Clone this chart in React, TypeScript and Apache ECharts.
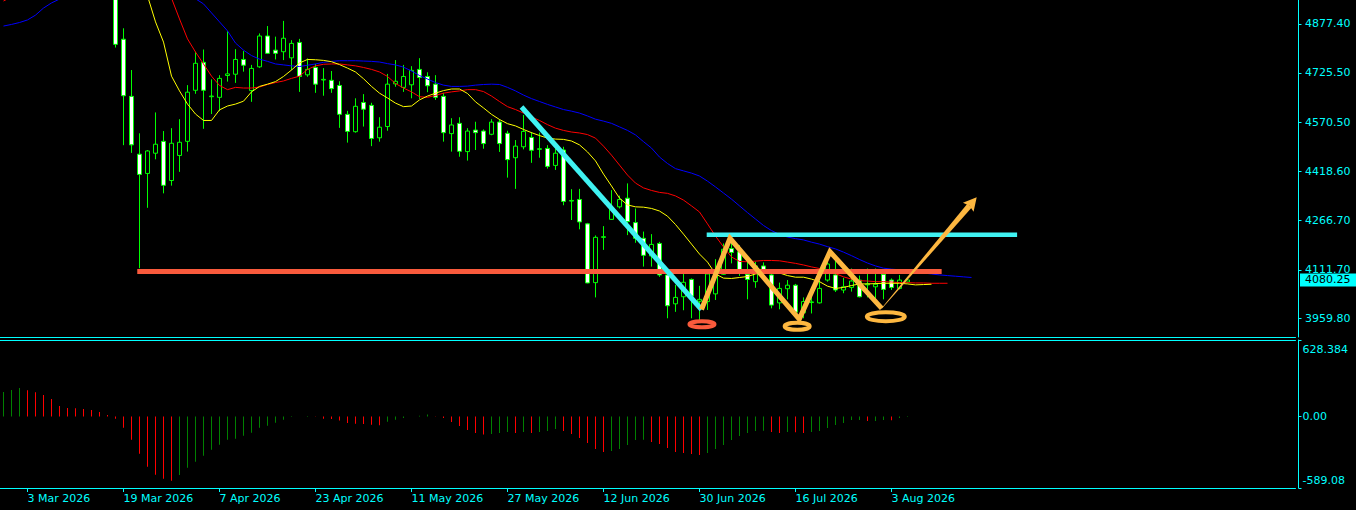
import React, { useEffect, useRef } from 'react';
import * as echarts from 'echarts';

// ---------- calendar ----------
const FIRST_TRADING_DAY = '2026-02-26';
const MARKET_HOLIDAYS = ['2026-04-03'];
const SLOT_COUNT = 162;
const LABEL_FIRST_INDEX = 3;
const LABEL_EVERY = 12;
const MONTH_NAMES = ['Jan', 'Feb', 'Mar', 'Apr', 'May', 'Jun', 'Jul', 'Aug', 'Sep', 'Oct', 'Nov', 'Dec'];

// ---------- price scale ----------
const priceRange = [3902.7, 4952.1];
const priceTickValues = [4877.4, 4725.5, 4570.5, 4418.6, 4266.7, 4111.7, 3959.8];
const lastPrice = 4080.25;

// ---------- oscillator scale ----------
const aoRange = [-589.08, 628.384];
const aoTickValues = [628.384, 0, -589.08];

// ---------- daily candles ----------
const opens = [
  5050, 5070, 5090, 5120, 5100, 5075, 5055, 5030, 5005, 5020,
  5010, 5025, 5015, 4995, 5005, 4830, 4652, 4472, 4412, 4475,
  4512, 4390, 4468, 4512, 4671, 4758, 4651, 4649, 4717, 4721,
  4767, 4670, 4744, 4840, 4796, 4791, 4772, 4820, 4719, 4742,
  4703, 4702, 4686, 4596, 4542, 4633, 4624, 4523, 4558, 4691,
  4680, 4688, 4736, 4714, 4690, 4652, 4536, 4568, 4480, 4547,
  4544, 4534, 4572, 4537, 4461, 4495, 4524, 4487, 4490, 4437,
  4485, 4326, 4331, 4255, 4072, 4213, 4269, 4308, 4335, 4259,
  4210, 4155, 4194, 4096, 4006, 4028, 4082, 4014, 4013, 4037,
  4098, 4178, 4168, 4098, 4075, 4124, 4096, 4009, 4053, 4064,
  3978, 4010, 4009, 4080, 4096, 4049, 4057, 4080, 4065, 4059,
  4098, 4080, 4054, 4074,
];
const highs = [
  5080, 5100, 5130, 5135, 5110, 5095, 5070, 5045, 5030, 5040,
  5035, 5045, 5030, 5020, 5020, 4864, 4734, 4537, 4485, 4602,
  4544, 4553, 4581, 4687, 4791, 4798, 4705, 4718, 4855, 4799,
  4793, 4750, 4848, 4871, 4838, 4887, 4827, 4831, 4770, 4753,
  4740, 4731, 4699, 4607, 4646, 4659, 4632, 4587, 4722, 4765,
  4750, 4746, 4771, 4727, 4718, 4663, 4584, 4587, 4553, 4573,
  4549, 4581, 4581, 4545, 4516, 4594, 4541, 4539, 4500, 4489,
  4495, 4363, 4364, 4258, 4219, 4248, 4360, 4343, 4381, 4303,
  4231, 4223, 4199, 4098, 4065, 4100, 4085, 4062, 4111, 4145,
  4194, 4210, 4189, 4142, 4137, 4135, 4106, 4072, 4080, 4068,
  4026, 4040, 4101, 4148, 4140, 4087, 4116, 4094, 4116, 4116,
  4114, 4085, 4096, 4088,
];
const lows = [
  5030, 5055, 5080, 5090, 5060, 5040, 5020, 4990, 4985, 4995,
  4990, 5000, 4985, 4975, 4804, 4500, 4476, 4117, 4305, 4456,
  4350, 4374, 4417, 4480, 4660, 4551, 4597, 4606, 4698, 4694,
  4729, 4635, 4741, 4784, 4767, 4765, 4734, 4666, 4713, 4663,
  4654, 4663, 4554, 4508, 4539, 4558, 4497, 4511, 4545, 4682,
  4666, 4646, 4644, 4665, 4641, 4511, 4480, 4464, 4452, 4485,
  4489, 4531, 4479, 4399, 4364, 4487, 4445, 4461, 4427, 4423,
  4313, 4267, 4238, 4070, 4026, 4174, 4267, 4303, 4220, 4196,
  4122, 4122, 4090, 3961, 3981, 3986, 3961, 3956, 3987, 4018,
  4096, 4132, 4093, 4020, 4056, 4089, 3992, 3989, 4020, 3974,
  3961, 3976, 4007, 4075, 4043, 4039, 4044, 4026, 4026, 4020,
  4020, 4049, 4051, 4070,
];
const closes = [
  5070, 5090, 5120, 5100, 5075, 5055, 5030, 5005, 5020, 5010,
  5025, 5015, 4995, 5005, 4814, 4654, 4501, 4409, 4482, 4503,
  4375, 4506, 4509, 4665, 4755, 4671, 4653, 4708, 4722, 4767,
  4749, 4739, 4840, 4786, 4786, 4833, 4817, 4714, 4736, 4690,
  4705, 4676, 4596, 4543, 4621, 4612, 4521, 4556, 4690, 4699,
  4714, 4733, 4711, 4685, 4649, 4539, 4563, 4481, 4544, 4539,
  4505, 4572, 4505, 4455, 4497, 4543, 4484, 4489, 4434, 4475,
  4325, 4328, 4261, 4071, 4213, 4215, 4301, 4331, 4262, 4210,
  4157, 4191, 4096, 4000, 4026, 4073, 4030, 4020, 4099, 4096,
  4176, 4166, 4111, 4082, 4124, 4113, 4002, 4054, 4064, 3980,
  4013, 4012, 4054, 4130, 4049, 4059, 4077, 4028, 4068, 4067,
  4051, 4057, 4080, 4080.25,
];

// ---------- shifted moving averages (read per slot) ----------
const lipsYellow = [
  5060, 5070, 5078, 5082, 5083, 5080, 5075, 5068, 5060, 5052,
  5045, 5038, 5030, 5020, 5008, 4995, 4985, 4975, 4965, 4884,
  4821, 4715, 4669, 4628, 4597, 4577, 4577, 4610, 4622, 4628,
  4637, 4666, 4683, 4690, 4698, 4714, 4734, 4756, 4767, 4766,
  4764, 4760, 4751, 4740, 4728, 4707, 4683, 4662, 4647, 4631,
  4620, 4622, 4641, 4653, 4662, 4670, 4675, 4675, 4661, 4635,
  4616, 4596, 4580, 4567, 4560, 4549, 4539, 4530, 4522, 4519,
  4518, 4513, 4501, 4479, 4451, 4410, 4373, 4335, 4314, 4308,
  4307, 4303, 4295, 4279, 4253, 4223, 4192, 4161, 4136, 4099,
  4086, 4085, 4088, 4091, 4099, 4103, 4108, 4102, 4094, 4089,
  4089, 4083, 4075, 4061, 4054, 4057, 4063, 4068, 4068, 4069,
  4070, 4070, 4070, 4068, 4065, 4066, 4067,
];
const teethRed = [
  4949, 4962, 4975, 4988, 5000, 5010, 5018, 5024, 5028, 5030,
  5030, 5028, 5024, 5018, 5010, 5000, 4990, 4981, 4973, 4967,
  4962, 4958, 4893, 4831, 4790, 4753, 4715, 4686, 4673, 4680,
  4678, 4678, 4681, 4689, 4695, 4700, 4708, 4715, 4736, 4747,
  4752, 4753, 4753, 4750, 4747, 4742, 4736, 4728, 4714, 4692,
  4678, 4666, 4651, 4649, 4655, 4662, 4666, 4669, 4673, 4673,
  4667, 4653, 4636, 4620, 4611, 4600, 4588, 4577, 4564, 4553,
  4546, 4541, 4538, 4533, 4522, 4497, 4469, 4438, 4407, 4382,
  4367, 4359, 4353, 4350, 4342, 4329, 4311, 4292, 4255, 4217,
  4183, 4152, 4138, 4137, 4139, 4141, 4141, 4140, 4136, 4132,
  4127, 4121, 4116, 4111, 4100, 4090, 4083, 4078, 4077, 4075,
  4075, 4074, 4072, 4072, 4071, 4071, 4070, 4070, 4070,
];
const jawBlue = [
  4871, 4876, 4882, 4890, 4905, 4927, 4943, 4955, 4975, 4990,
  5000, 5008, 5012, 5014, 5012, 5008, 5000, 4994, 4987, 4980,
  4974, 4969, 4965, 4961, 4956, 4940, 4912, 4884, 4856, 4818,
  4796, 4779, 4768, 4761, 4753, 4750, 4747, 4745, 4749, 4753,
  4758, 4761, 4763, 4763, 4763, 4762, 4761, 4759, 4754, 4750,
  4743, 4731, 4717, 4706, 4695, 4687, 4683, 4683, 4684, 4687,
  4689, 4690, 4689, 4680, 4669, 4656, 4645, 4636, 4627, 4619,
  4611, 4606, 4600, 4591, 4581, 4575, 4568, 4557, 4546, 4532,
  4511, 4491, 4463, 4443, 4427, 4420, 4413, 4404, 4388, 4370,
  4351, 4332, 4311, 4290, 4270, 4250, 4234, 4222, 4214, 4209,
  4205, 4198, 4192, 4184, 4177, 4167, 4156, 4144, 4133, 4124,
  4117, 4114, 4112, 4110, 4105, 4102, 4099, 4096, 4094, 4092,
  4090, 4088,
];

// ---------- oscillator histogram ----------
const aoValues = [
  200, 217, 233, 216, 199, 175, 143, 85, 69, 66,
  60, 52, 36, 11, -19, -93, -192, -307, -414, -480,
  -513, -529, -483, -422, -373, -324, -274, -233, -192, -184,
  -159, -134, -93, -77, -52, -27, -6, -1, 4, 2,
  -19, -22, -33, -55, -60, -63, -68, -72, -45, -28,
  -14, -1, 5, 16, -3, -14, -47, -80, -112, -137,
  -148, -145, -137, -129, -137, -129, -137, -129, -121, -104,
  -121, -145, -178, -219, -269, -293, -285, -269, -236, -195,
  -193, -211, -228, -260, -293, -302, -310, -318, -302, -269,
  -236, -195, -162, -137, -121, -119, -129, -137, -129, -131,
  -137, -129, -121, -96, -71, -55, -30, -29, -38, -37,
  -30, -31, -14, -5,
];

// ---------- drawn annotations: [slot position, price] ----------
const supportLine = [[16.72, 4106.6], [117.27, 4106.6]];
const resistanceLine = [[87.9, 4220.9], [126.7, 4220.9]];
const downTrendLine = [[64.75, 4618.9], [87.25, 3988.3]];
const zigzagPath = [[87.25, 3988.3], [90.81, 4210.0], [99.47, 3958.6], [103.31, 4168.3], [109.78, 3992.0]];
const breakoutArrow = [[109.78, 3992.0, 121.65, 4337.7]];
const markerCentres = [[87.31, 3942.2], [99.21, 3936.3], [110.29, 3965.9]];

// ---------- styles ----------
const BG = '#000000';
const CYAN = '#00ffff';
const LIME = '#00ff00';
const SUPPORT_COL = '#f95a3c';
const RESIST_COL = '#3ff2f2';
const ZIGZAG_COL = '#fdb740';
const AO_UP = '#008000';
const AO_DOWN = '#ff0000';
const FONT = 'DejaVu Sans';
const SLOT_PX = 8;
const markerRadii = [[12.5, 3], [12.5, 3.5], [19, 4.5]];
const markerColours = [SUPPORT_COL, ZIGZAG_COL, ZIGZAG_COL];

function buildTradingDays(first: string, count: number, holidays: string[]): string[] {
  const out: string[] = [];
  const d = new Date(first + 'T00:00:00Z');
  while (out.length < count) {
    const dow = d.getUTCDay();
    const iso = d.toISOString().slice(0, 10);
    if (dow !== 0 && dow !== 6 && holidays.indexOf(iso) < 0) out.push(iso);
    d.setUTCDate(d.getUTCDate() + 1);
  }
  return out;
}

const categories = buildTradingDays(FIRST_TRADING_DAY, SLOT_COUNT, MARKET_HOLIDAYS);
const lastBar = closes.length - 1;
const labelShown = (i: number) =>
  i >= LABEL_FIRST_INDEX && i <= lastBar && (i - LABEL_FIRST_INDEX) % LABEL_EVERY === 0;
const formatDay = (iso: string) => {
  const [y, m, d] = iso.split('-').map(Number);
  return `${d} ${MONTH_NAMES[m - 1]} ${y}`;
};

function buildOption(): any {
  const candleData = opens.map((o, i) => [o, closes[i], lows[i], highs[i]]);
  const aoData = aoValues.map((v, i) => ({
    value: v,
    itemStyle: { color: i === 0 || v >= aoValues[i - 1] ? AO_UP : AO_DOWN },
  }));
  const gridWidth = SLOT_COUNT * SLOT_PX;
  const axisLineStyle = { color: CYAN, width: 1 };
  const labelBase = { color: CYAN, fontSize: 11, fontFamily: FONT };

  return {
    animation: false,
    backgroundColor: BG,
    textStyle: { fontFamily: FONT },
    grid: [
      { left: -0.5, top: 0, width: gridWidth, height: 337, outerBoundsMode: 'none', containLabel: false },
      { left: -0.5, top: 340, width: gridWidth, height: 148, outerBoundsMode: 'none', containLabel: false },
    ],
    xAxis: [
      {
        gridIndex: 0, type: 'category', data: categories,
        axisLine: { show: true, onZero: false, lineStyle: axisLineStyle },
        axisTick: { show: false }, axisLabel: { show: false }, splitLine: { show: false },
      },
      { gridIndex: 0, type: 'value', min: -0.5, max: SLOT_COUNT - 0.5, show: false },
      {
        gridIndex: 1, type: 'category', data: categories, position: 'bottom',
        axisLine: { show: true, onZero: false, lineStyle: axisLineStyle },
        axisTick: { show: true, alignWithLabel: true, length: 4, interval: (i: number) => labelShown(i), lineStyle: axisLineStyle },
        axisLabel: { ...labelBase, interval: (i: number) => labelShown(i), formatter: (v: string) => formatDay(v), align: 'left', margin: 5 },
        splitLine: { show: false },
      },
      {
        gridIndex: 1, type: 'category', data: categories, position: 'top',
        axisLine: { show: true, onZero: false, lineStyle: axisLineStyle },
        axisTick: { show: false }, axisLabel: { show: false }, splitLine: { show: false },
      },
    ],
    yAxis: [
      {
        gridIndex: 0, type: 'value', position: 'right', offset: 3,
        min: priceRange[0], max: priceRange[1], scale: true,
        axisLine: { show: true, onZero: false, lineStyle: axisLineStyle },
        axisTick: { show: true, length: 3, customValues: priceTickValues, lineStyle: axisLineStyle },
        axisLabel: { ...labelBase, customValues: priceTickValues, formatter: (v: number) => v.toFixed(2), margin: 6.5 },
        splitLine: { show: false },
      },
      {
        gridIndex: 0, type: 'value', position: 'right', offset: 3,
        min: priceRange[0], max: priceRange[1], scale: true,
        axisLine: { show: false, onZero: false }, axisTick: { show: false }, splitLine: { show: false },
        axisLabel: {
          customValues: [lastPrice], formatter: (v: number) => v.toFixed(2),
          color: '#000000', backgroundColor: CYAN, fontSize: 11, fontFamily: FONT,
          padding: [1, 6, 0, 5], lineHeight: 12, margin: 1.5,
        },
      },
      {
        gridIndex: 1, type: 'value', position: 'right', offset: 3,
        min: aoRange[0], max: aoRange[1],
        axisLine: { show: true, onZero: false, lineStyle: axisLineStyle },
        axisTick: { show: true, length: 3, customValues: aoTickValues, lineStyle: axisLineStyle },
        axisLabel: {
          ...labelBase, customValues: aoTickValues, margin: 4,
          formatter: (v: number) => {
            if (v === aoRange[1]) return '{t|' + String(v) + '}';
            if (v === aoRange[0]) return '{b|' + v.toFixed(2) + '}';
            return v.toFixed(2);
          },
          rich: {
            t: { ...labelBase, padding: [18, 0, 0, 0] },
            b: { ...labelBase, padding: [0, 0, 16, 0] },
          },
        },
        splitLine: { show: false },
      },
    ],
    series: [
      {
        type: 'candlestick', xAxisIndex: 0, yAxisIndex: 0, data: candleData,
        barWidth: 4, clip: true, z: 2,
        itemStyle: { color: '#000000', color0: '#ffffff', borderColor: LIME, borderColor0: LIME, borderWidth: 1 },
      },
      { type: 'line', xAxisIndex: 0, yAxisIndex: 0, data: jawBlue, symbol: 'none', z: 3, clip: true, lineStyle: { width: 1, color: '#0000ff' } },
      { type: 'line', xAxisIndex: 0, yAxisIndex: 0, data: teethRed, symbol: 'none', z: 3, clip: true, lineStyle: { width: 1, color: '#ff0000' } },
      { type: 'line', xAxisIndex: 0, yAxisIndex: 0, data: lipsYellow, symbol: 'none', z: 3, clip: true, lineStyle: { width: 1, color: '#ffff00' } },
      { type: 'line', xAxisIndex: 1, yAxisIndex: 0, data: supportLine, symbol: 'none', z: 5, lineStyle: { width: 5, color: SUPPORT_COL } },
      { type: 'line', xAxisIndex: 1, yAxisIndex: 0, data: resistanceLine, symbol: 'none', z: 5, lineStyle: { width: 4.5, color: RESIST_COL } },
      { type: 'line', xAxisIndex: 1, yAxisIndex: 0, data: downTrendLine, symbol: 'none', z: 5, lineStyle: { width: 5, color: RESIST_COL } },
      { type: 'line', xAxisIndex: 1, yAxisIndex: 0, data: zigzagPath, symbol: 'none', z: 6, lineStyle: { width: 5, color: ZIGZAG_COL, join: 'miter' } },
      {
        type: 'custom', xAxisIndex: 1, yAxisIndex: 0, z: 6, data: markerCentres,
        encode: { x: 0, y: 1 },
        renderItem: (params: any, api: any) => {
          const p = api.coord([api.value(0), api.value(1)]);
          const r = markerRadii[params.dataIndex];
          return {
            type: 'ellipse',
            shape: { cx: p[0], cy: p[1], rx: r[0], ry: r[1] },
            style: { fill: 'none', stroke: markerColours[params.dataIndex], lineWidth: 4 },
          };
        },
      },
      {
        type: 'custom', xAxisIndex: 1, yAxisIndex: 0, z: 6, data: breakoutArrow,
        encode: { x: [0, 2], y: [1, 3] },
        renderItem: (params: any, api: any) => {
          const t = api.coord([api.value(0), api.value(1)]);
          const h = api.coord([api.value(2), api.value(3)]);
          const dx = h[0] - t[0];
          const dy = h[1] - t[1];
          const len = Math.sqrt(dx * dx + dy * dy) || 1;
          const ux = dx / len, uy = dy / len, nx = -uy, ny = ux;
          const headLen = 13, headHalf = 7, tailHalf = 0.3, shaftHalf = 2.9, notch = 2;
          const bx = h[0] - ux * headLen, by = h[1] - uy * headLen;
          return {
            type: 'group',
            children: [
              {
                type: 'polygon',
                shape: { points: [
                  [t[0] + nx * tailHalf, t[1] + ny * tailHalf],
                  [bx + ux * notch + nx * shaftHalf, by + uy * notch + ny * shaftHalf],
                  [bx + ux * notch - nx * shaftHalf, by + uy * notch - ny * shaftHalf],
                  [t[0] - nx * tailHalf, t[1] - ny * tailHalf],
                ] },
                style: { fill: ZIGZAG_COL },
              },
              {
                type: 'polygon',
                shape: { points: [
                  [h[0], h[1]],
                  [bx + nx * headHalf, by + ny * headHalf],
                  [bx + ux * notch, by + uy * notch],
                  [bx - nx * headHalf, by - ny * headHalf],
                ] },
                style: { fill: ZIGZAG_COL },
              },
            ],
          };
        },
      },
      {
        type: 'bar', xAxisIndex: 2, yAxisIndex: 2, data: aoData, barWidth: 1, z: 2,
      },
    ],
  };
}

export default function App() {
  const ref = useRef<HTMLDivElement | null>(null);
  useEffect(() => {
    document.body.style.margin = '0';
    document.body.style.background = BG;
    if (!ref.current) return;
    const chart = echarts.init(ref.current, null, { renderer: 'svg' });
    chart.setOption(buildOption());
    return () => chart.dispose();
  }, []);
  return (
    <div
      ref={ref}
      style={{ position: 'fixed', left: 0, top: 0, width: 1356, height: 510, background: BG }}
    />
  );
}
